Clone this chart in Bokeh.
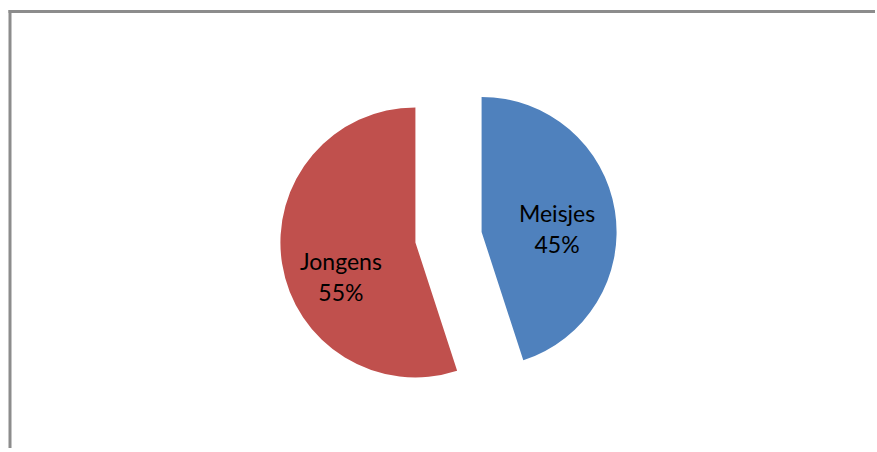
import math
from bokeh.plotting import figure
from bokeh.models import Range1d, ColumnDataSource
from bokeh.core.properties import value
from bokeh.embed import file_html
from bokeh.resources import INLINE

# ---- data ----
categories = ["Meisjes", "Jongens"]
shares = [45, 55]
pct_labels = ["45%", "55%"]
colors = ["#4F81BD", "#C0504D"]

# ---- layout ----
W, H = 875, 448
CX, CY = 448.0, H - 236.7  # pie centre (px, y up)
R = 135.0                  # radius (px)
EXPLODE = 33.5             # explosion offset (px)
FONT = "Lato"

p = figure(width=W, height=H, output_backend="svg", toolbar_location=None,
           x_range=Range1d(0, W), y_range=Range1d(0, H),
           x_axis_location=None, y_axis_location=None, min_border=0)
p.grid.visible = False
p.outline_line_color = None
p.background_fill_color = "white"
p.border_fill_color = "white"

total = float(sum(shares))
start = math.pi / 2
xs, ys, starts, ends = [], [], [], []
for s in shares:
    frac = s / total
    end = start - 2 * math.pi * frac
    mid = (start + end) / 2
    xs.append(CX + EXPLODE * math.cos(mid))
    ys.append(CY + EXPLODE * math.sin(mid))
    starts.append(start); ends.append(end)
    start = end

src = ColumnDataSource(dict(x=xs, y=ys, start=starts, end=ends, color=colors,
                            name=categories, pct=pct_labels))
p.wedge(x="x", y="y", radius=R, start_angle="start", end_angle="end",
        direction="clock", fill_color="color", line_color=None, source=src)

# labels (positions relative to each slice apex)
label_off = [(75.5, 6.0), (-74.5, -32.0)]
name_x = [xs[i] + label_off[i][0] for i in range(2)]
name_y = [ys[i] + label_off[i][1] + 13 for i in range(2)]
pct_y = [ys[i] + label_off[i][1] - 18 for i in range(2)]
lsrc = ColumnDataSource(dict(x=name_x, y1=name_y, y2=pct_y, name=categories, pct=pct_labels))
for col, ycol in (("name", "y1"), ("pct", "y2")):
    p.text(x="x", y=ycol, text=col, source=lsrc, text_font=value(FONT),
           text_font_size="23px", text_align="center", text_baseline="alphabetic",
           text_color="black")

# chart frame (left and top edges visible; right/bottom lie outside the window)
FX, FY = 9.5, H - 11.0
p.multi_line(xs=[[FX, FX], [FX - 1.5, W + 10]], ys=[[-10, FY + 1.5], [FY, FY]],
             line_color="#8c8c8c", line_width=3, line_cap="butt")

open("out.html", "w").write(file_html(p, INLINE))
